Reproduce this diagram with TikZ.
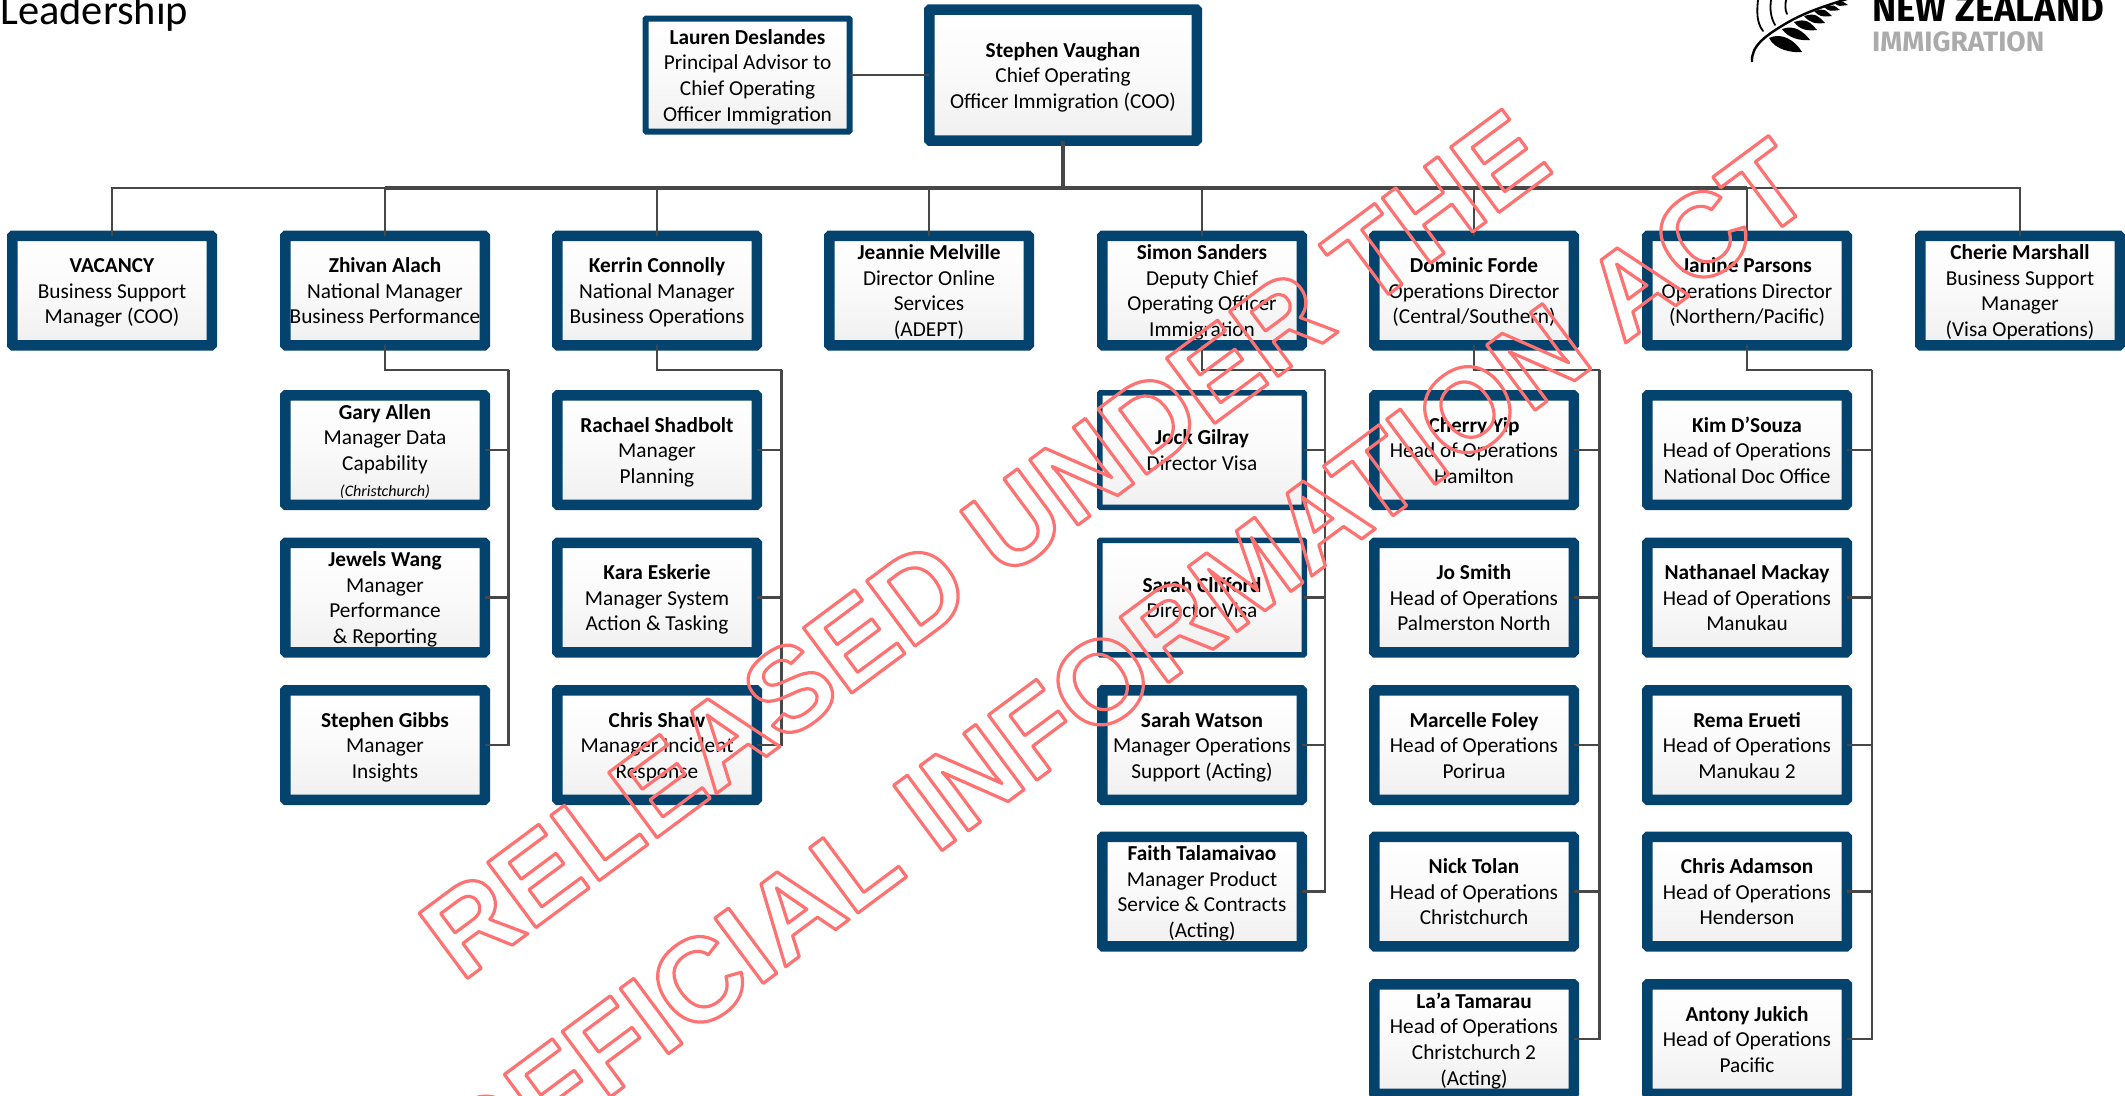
\documentclass[tikz,border=0pt]{standalone}
\usepackage{fontspec}
\setmainfont{Carlito}
\newfontfamily\wmfont{Liberation Sans}
\newfontfamily\logofont{Fira Sans}
\definecolor{navy}{HTML}{03436D}
\definecolor{conn}{HTML}{474747}
\tikzset{
  x=1pt,y=-1pt,
  orgbox/.style={draw=navy,line width=10.5pt,top color=white,bottom color=black!6,middle color=black!2,
    minimum width=199.5pt,minimum height=109.5pt,inner sep=0pt,outer sep=0pt,align=center,rounded corners=0.8pt,
    font=\fontsize{21.3}{25.6}\selectfont,execute at end node=\strut},
  thinbox/.style={orgbox,line width=5.5pt,minimum width=204.5pt,minimum height=114.5pt},
  toplead/.style={orgbox,minimum width=267.5pt,minimum height=131pt},
  topadv/.style={orgbox,line width=6pt,minimum width=204pt,minimum height=113pt},
  link/.style={draw=conn,line width=2.4pt},
  boldlink/.style={draw=conn,line width=3.4pt},
  watermark/.style={anchor=base east,inner sep=0pt,outer sep=0pt,rotate=36.6,font=\wmfont\bfseries\fontsize{118}{118}\selectfont},
  leaf/.style={fill=black,draw=none},
  frond/.style={draw=black,line width=1.8pt,line cap=round},
}
\newcommand{\nm}[1]{\rule{0pt}{23pt}\textbf{#1}}
\newcommand{\outl}[1]{\special{pdf:code 1 Tr 3.2 w 1 j 1 0.447 0.447 RG 1 0.447 0.447 rg}#1\special{pdf:code 0 Tr}}
\begin{document}
\begin{tikzpicture}
\useasboundingbox (0,0) rectangle (2125,1095);
\clip (0,0) rectangle (2125,1095);

% title
\node[anchor=base west,inner sep=0pt,font=\fontsize{42.5}{42}\selectfont] (title) at (0,24) {Leadership};

% logo
\node[anchor=base west,inner sep=0pt,font=\logofont\bfseries\fontsize{36.5}{36}\selectfont] (logoa) at (1872,21) {NEW ZEALAND};
\node[anchor=base west,inner sep=0pt,text=black!33,font=\logofont\bfseries\fontsize{28}{28}\selectfont] (logob) at (1872,51.5) {IMMIGRATION};
\draw[black,line width=2.4pt] (1752,62) .. controls (1751,46) and (1765,36) .. (1785,24) .. controls (1805,12) and (1825,6) .. (1850,-2);
\foreach \ax/\ay/\bx/\by/\w in {1769/38/1802/52/12,1782/29/1810/40/9,1794/22/1817/30/8,1804/16/1825/23/7,1814/11/1832/16/6,1824/7/1840/10/5,1834/3/1848/5/4}{
  \fill[leaf] (\ax,\ay) .. controls (\ax+6,\ay+\w) and (\bx-10,\by+1) .. (\bx,\by) .. controls (\bx-7,\by-\w) and (\ax+12,\ay-\w*0.5) .. (\ax,\ay) -- cycle;
}
\draw[frond] (1763,31) .. controls (1756,22) and (1757,10) .. (1758,0);
\draw[frond] (1775,25) .. controls (1770,16) and (1770,8) .. (1771,0);
\draw[frond] (1787,14) .. controls (1785,10) and (1785,5) .. (1786,0);

% boxes
\node[toplead] (vaughan) at (1063,75) {\nm{Stephen Vaughan}\\Chief Operating\\Officer Immigration (COO)};
\node[topadv] (lauren) at (747.5,75) {\nm{Lauren Deslandes}\\Principal Advisor to\\Chief Operating\\Officer Immigration};

\node[orgbox] (vacancy) at (112,290.5) {\nm{VACANCY}\\Business Support\\Manager (COO)};
\node[orgbox] (zhivan) at (385,290.5) {\nm{Zhivan Alach}\\National Manager\\Business Performance};
\node[orgbox] (kerrin) at (657,290.5) {\nm{Kerrin Connolly}\\National Manager\\Business Operations};
\node[orgbox] (jeannie) at (929,290.5) {\nm{Jeannie Melville}\\Director Online\\Services\\(ADEPT)};
\node[orgbox] (simon) at (1202,290.5) {\nm{Simon Sanders}\\Deputy Chief\\Operating Officer\\Immigration};
\node[orgbox] (dominic) at (1474,290.5) {\nm{Dominic Forde}\\Operations Director\\(Central/Southern)};
\node[orgbox] (janine) at (1747,290.5) {\nm{Janine Parsons}\\Operations Director\\(Northern/Pacific)};
\node[orgbox] (cherie) at (2020,290.5) {\nm{Cherie Marshall}\\Business Support\\Manager\\(Visa Operations)};

\node[orgbox] (gary) at (385,450) {\nm{Gary Allen}\\Manager Data\\Capability\\{\fontsize{16}{25.6}\selectfont\itshape (Christchurch)}};
\node[orgbox] (jewels) at (385,597.5) {\nm{Jewels Wang}\\Manager\\Performance\\\& Reporting};
\node[orgbox] (gibbs) at (385,745) {\nm{Stephen Gibbs}\\Manager\\Insights};

\node[orgbox] (rachael) at (657,450) {\nm{Rachael Shadbolt}\\Manager\\Planning};
\node[orgbox] (kara) at (657,597.5) {\nm{Kara Eskerie}\\Manager System\\Action \& Tasking};
\node[orgbox] (shaw) at (657,745) {\nm{Chris Shaw}\\Manager Incident\\Response};

\node[thinbox] (jock) at (1202,450) {\nm{Jock Gilray}\\Director Visa};
\node[thinbox] (clifford) at (1202,597.5) {\nm{Sarah Clifford}\\Director Visa};
\node[orgbox] (watson) at (1202,745) {\nm{Sarah Watson}\\Manager Operations\\Support (Acting)};
\node[orgbox] (faith) at (1202,891.5) {\nm{Faith Talamaivao}\\Manager Product\\Service \& Contracts\\(Acting)};

\node[orgbox] (cherry) at (1474,450) {\nm{Cherry Yip}\\Head of Operations\\Hamilton};
\node[orgbox] (josmith) at (1474,597.5) {\nm{Jo Smith}\\Head of Operations\\Palmerston North};
\node[orgbox] (marcelle) at (1474,745) {\nm{Marcelle Foley}\\Head of Operations\\Porirua};
\node[orgbox] (nick) at (1474,891.5) {\nm{Nick Tolan}\\Head of Operations\\Christchurch};
\node[orgbox] (laa) at (1474,1039) {\nm{La’a Tamarau}\\Head of Operations\\Christchurch 2\\(Acting)};

\node[orgbox] (kim) at (1747,450) {\nm{Kim D’Souza}\\Head of Operations\\National Doc Office};
\node[orgbox] (nathanael) at (1747,597.5) {\nm{Nathanael Mackay}\\Head of Operations\\Manukau};
\node[orgbox] (rema) at (1747,745) {\nm{Rema Erueti}\\Head of Operations\\Manukau 2};
\node[orgbox] (adamson) at (1747,891.5) {\nm{Chris Adamson}\\Head of Operations\\Henderson};
\node[orgbox] (jukich) at (1747,1039) {\nm{Antony Jukich}\\Head of Operations\\Pacific};

% connectors
\coordinate (bus) at (1063,188);
\draw[link] (lauren.east) -- (vaughan.west);
\foreach \t in {vacancy,zhivan,kerrin,jeannie,simon,dominic,janine,cherie}{
  \draw[link] (bus) -| (\t.north);
}
\draw[boldlink] (vaughan.south) -- (bus);
\draw[boldlink] (zhivan.north |- bus) -- (janine.north |- bus);

\coordinate (sz) at (508.6,370);
\coordinate (sk) at (781.5,370);
\coordinate (ss) at (1325,370);
\coordinate (sd) at (1599.6,370);
\coordinate (sj) at (1872,370);
\draw[link] (zhivan.south) |- (sz);
\draw[link] (kerrin.south) |- (sk);
\draw[link] (simon.south) |- (ss);
\draw[link] (dominic.south) |- (sd);
\draw[link] (janine.south) |- (sj);
\foreach \s/\t in {sz/gary,sz/jewels,sz/gibbs,sk/rachael,sk/kara,sk/shaw,
  ss/jock,ss/clifford,ss/watson,ss/faith,
  sd/cherry,sd/josmith,sd/marcelle,sd/nick,sd/laa,
  sj/kim,sj/nathanael,sj/rema,sj/adamson,sj/jukich}{
  \draw[link] (\s) |- (\t.east);
}

% watermark
\node[watermark] (wma) at (1556,170) {\outl{RELEASED UNDER THE}};
\node[watermark] (wmb) at (1818,200) {\outl{OFFICIAL INFORMATION ACT}};
\end{tikzpicture}
\end{document}
